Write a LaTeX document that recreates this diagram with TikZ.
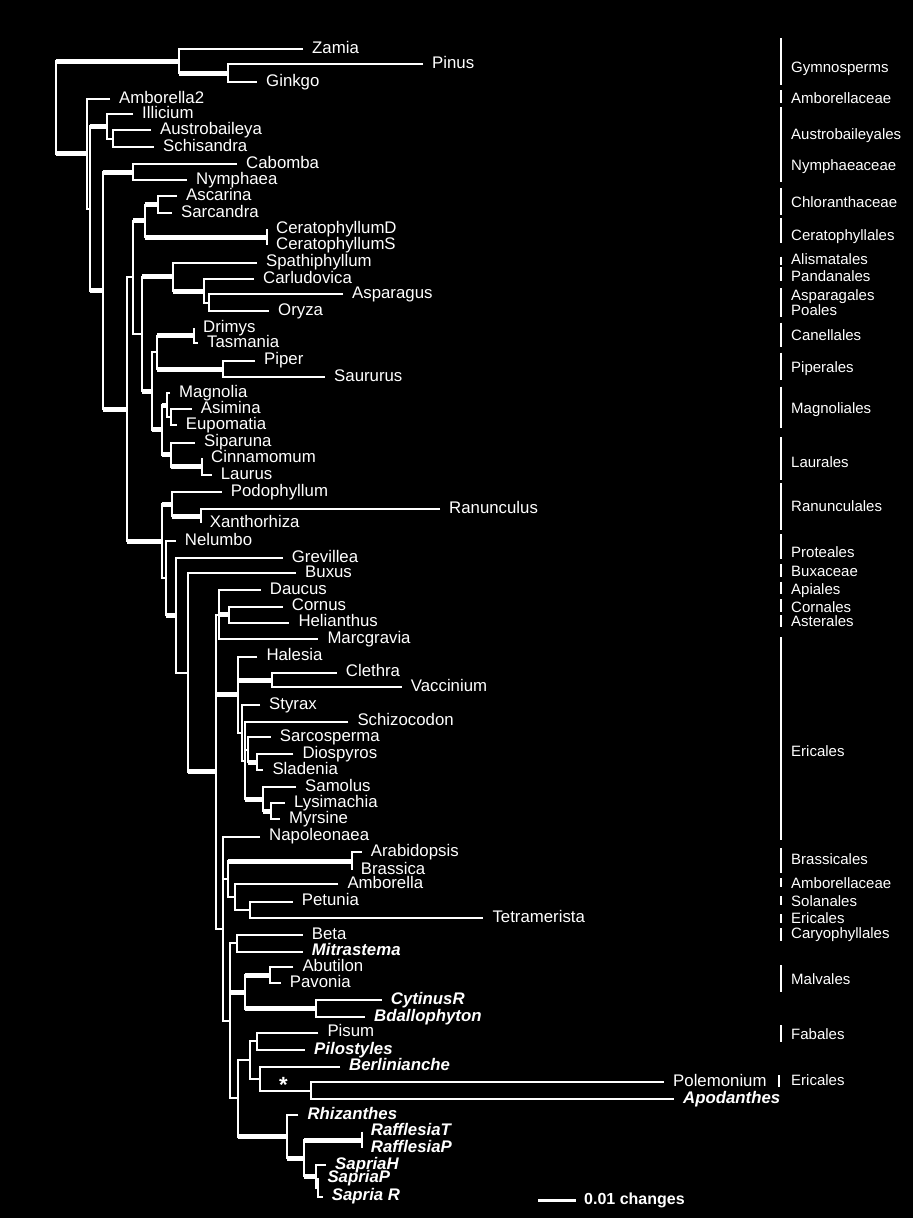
\documentclass[tikz,border=0pt]{standalone}
\usepackage{fontspec}
\setmainfont{Liberation Sans}

\begin{document}
\begin{tikzpicture}[
      x=1pt,y=-1pt,
      leaf/.style={
        anchor=west,inner xsep=9pt,inner ysep=0pt,
        text height=10.5pt,text depth=2pt,text=white,
        font=\fontsize{16.8}{18}\selectfont
      },
      para/.style={leaf,font=\fontsize{16.8}{18}\selectfont\bfseries\itshape},
      grp/.style={
        anchor=west,inner sep=0pt,text height=11pt,text depth=3pt,
        text=white,font=\fontsize{15}{16}\selectfont
      },
      scl/.style={
        anchor=west,inner xsep=8pt,inner ysep=0pt,text height=12pt,
        text depth=3.5pt,text=white,font=\fontsize{16}{18}\selectfont\bfseries
      },
      br/.style={draw=white,line width=2pt},
      heavy/.style={draw=white,line width=5pt},
      bar/.style={draw=white,line width=2pt},
    ]
    \path[use as bounding box,fill=black] (0,0) rectangle (913,1218);

    % taxa
    \node[leaf] (zamia) at (303,49.3) {Zamia};
    \node[leaf] (pinus) at (423,64.3) {Pinus};
    \node[leaf] (ginkgo) at (257,82) {Ginkgo};
    \node[leaf] (amborella2) at (110,99) {Amborella2};
    \node[leaf] (illicium) at (133,114) {Illicium};
    \node[leaf] (austrobaileya) at (151,130) {Austrobaileya};
    \node[leaf] (schisandra) at (154,147) {Schisandra};
    \node[leaf] (cabomba) at (237,164) {Cabomba};
    \node[leaf] (nymphaea) at (187,180) {Nymphaea};
    \node[leaf] (ascarina) at (177,196) {Ascarina};
    \node[leaf] (sarcandra) at (172,213) {Sarcandra};
    \node[leaf] (ceratod) at (267,229) {CeratophyllumD};
    \node[leaf] (ceratos) at (267,245) {CeratophyllumS};
    \node[leaf] (spathi) at (257,262.7) {Spathiphyllum};
    \node[leaf] (carludovica) at (254,279.3) {Carludovica};
    \node[leaf] (asparagus) at (343,294.3) {Asparagus};
    \node[leaf] (oryza) at (269,311) {Oryza};
    \node[leaf] (drimys) at (194,328.3) {Drimys};
    \node[leaf] (tasmania) at (198,343.3) {Tasmania};
    \node[leaf] (piper) at (255,360.7) {Piper};
    \node[leaf] (saururus) at (325,377.3) {Saururus};
    \node[leaf] (magnolia) at (170,393.3) {Magnolia};
    \node[leaf] (asimina) at (191.7,409.3) {Asimina};
    \node[leaf] (eupomatia) at (176.7,425) {Eupomatia};
    \node[leaf] (siparuna) at (195,442.7) {Siparuna};
    \node[leaf] (cinnamomum) at (202,458.3) {Cinnamomum};
    \node[leaf] (laurus) at (211.7,475) {Laurus};
    \node[leaf] (podophyllum) at (221.7,492.3) {Podophyllum};
    \node[leaf] (ranunculus) at (440,509.3) {Ranunculus};
    \node[leaf] (xanthorhiza) at (200.7,523.3) {Xanthorhiza};
    \node[leaf] (nelumbo) at (175.7,541) {Nelumbo};
    \node[leaf] (grevillea) at (282.7,558.3) {Grevillea};
    \node[leaf] (buxus) at (296,573.3) {Buxus};
    \node[leaf] (daucus) at (260.7,590) {Daucus};
    \node[leaf] (cornus) at (282.7,606.7) {Cornus};
    \node[leaf] (helianthus) at (289.3,622.7) {Helianthus};
    \node[leaf] (marcgravia) at (318.3,639.3) {Marcgravia};
    \node[leaf] (halesia) at (257.3,656.7) {Halesia};
    \node[leaf] (clethra) at (336.7,672.7) {Clethra};
    \node[leaf] (vaccinium) at (401.7,687.3) {Vaccinium};
    \node[leaf] (styrax) at (260,705) {Styrax};
    \node[leaf] (schizocodon) at (348.3,721.7) {Schizocodon};
    \node[leaf] (sarcosperma) at (270.7,737.3) {Sarcosperma};
    \node[leaf] (diospyros) at (293.3,754) {Diospyros};
    \node[leaf] (sladenia) at (263.3,770) {Sladenia};
    \node[leaf] (samolus) at (296,787.3) {Samolus};
    \node[leaf] (lysimachia) at (285,803.3) {Lysimachia};
    \node[leaf] (myrsine) at (280,819.3) {Myrsine};
    \node[leaf] (napoleonaea) at (260,836.7) {Napoleonaea};
    \node[leaf] (arabidopsis) at (361.7,852.3) {Arabidopsis};
    \node[leaf] (brassica) at (351.7,870) {Brassica};
    \node[leaf] (amborella) at (338.3,884) {Amborella};
    \node[leaf] (petunia) at (292.7,901.7) {Petunia};
    \node[leaf] (tetramerista) at (483.3,918.3) {Tetramerista};
    \node[leaf] (beta) at (302.7,935) {Beta};
    \node[para] (mitrastema) at (302.7,951.7) {Mitrastema};
    \node[leaf] (abutilon) at (293.3,967.3) {Abutilon};
    \node[leaf] (pavonia) at (280.7,983.3) {Pavonia};
    \node[para] (cytinus) at (381.7,1000) {CytinusR};
    \node[para] (bdallophyton) at (365,1017.3) {Bdallophyton};
    \node[leaf] (pisum) at (318.3,1032.7) {Pisum};
    \node[para] (pilostyles) at (305,1050) {Pilostyles};
    \node[para] (berlinianche) at (340,1066.7) {Berlinianche};
    \node[leaf] (polemonium) at (664,1082.3) {Polemonium};
    \node[para] (apodanthes) at (674,1099) {Apodanthes};
    \node[para] (rhizanthes) at (298.3,1115) {Rhizanthes};
    \node[para] (rafflesiat) at (361.7,1131.7) {RafflesiaT};
    \node[para] (rafflesiap) at (361.7,1148.3) {RafflesiaP};
    \node[para] (sapriah) at (326,1165) {SapriaH};
    \node[para] (sapriap) at (318.3,1178.3) {SapriaP};
    \node[para] (sapriar) at (322.7,1196.7) {Sapria R};

    % internal nodes
    \coordinate (root) at (56,107.5);
    \coordinate (gym) at (179,61.2);
    \coordinate (pigi) at (228,73.15);
    \coordinate (ang) at (87,153.75);
    \coordinate (ang1) at (90,208.5);
    \coordinate (aus) at (107,126.25);
    \coordinate (aus2) at (113,138.5);
    \coordinate (core) at (103,290.7);
    \coordinate (nym) at (133,172);
    \coordinate (meso) at (127,409.3);
    \coordinate (chlmon) at (133,277.4);
    \coordinate (chlcer) at (145,220.75);
    \coordinate (chl) at (158,204.5);
    \coordinate (cer) at (267,237);
    \coordinate (monmag) at (142,334);
    \coordinate (mono) at (173,276.8);
    \coordinate (mono2) at (204,291);
    \coordinate (mono3) at (209,302.65);
    \coordinate (magn) at (152,391.2);
    \coordinate (canpip) at (157,352.4);
    \coordinate (cane) at (194,335.8);
    \coordinate (pipe) at (223,369);
    \coordinate (magnlaur) at (162,429.95);
    \coordinate (magno) at (167,405.2);
    \coordinate (magno2) at (171,417.15);
    \coordinate (laur) at (171,454.7);
    \coordinate (laur2) at (202,466.65);
    \coordinate (eud) at (162,541.25);
    \coordinate (ranu) at (172,504.3);
    \coordinate (ranu2) at (200.7,516.3);
    \coordinate (eud2) at (165.7,578.2);
    \coordinate (eud3) at (175.7,615.4);
    \coordinate (eud4) at (187.5,672.5);
    \coordinate (coreeud) at (216,771.7);
    \coordinate (aste) at (219.3,614.65);
    \coordinate (corhel) at (229.3,614.7);
    \coordinate (eric) at (237.5,694.7);
    \coordinate (clevac) at (271.7,680);
    \coordinate (sty) at (241.7,732.75);
    \coordinate (eric2) at (245,760.5);
    \coordinate (sarc) at (248.3,749.65);
    \coordinate (diosla) at (256.7,762);
    \coordinate (prim) at (263.3,799.3);
    \coordinate (lysmyr) at (271,811.3);
    \coordinate (ros) at (223,928.75);
    \coordinate (brasamb) at (228.3,879.1);
    \coordinate (bras) at (351.7,861.15);
    \coordinate (amb) at (235,897);
    \coordinate (sol) at (250,910);
    \coordinate (ros2) at (230,1020.8);
    \coordinate (caryo) at (237.3,943.35);
    \coordinate (malv) at (245,992);
    \coordinate (abu) at (270,975.3);
    \coordinate (cyt) at (316,1008.65);
    \coordinate (lowr) at (238,1098.3);
    \coordinate (pisber) at (250,1060);
    \coordinate (pisn) at (256.7,1041.35);
    \coordinate (bern) at (260,1078.7);
    \coordinate (poln) at (310.7,1090.65);
    \coordinate (raf0) at (287.3,1136.55);
    \coordinate (raf1) at (304.3,1158.1);
    \coordinate (rafn) at (361.7,1140);
    \coordinate (sap) at (316,1176.25);
    \coordinate (sap2) at (318.3,1187.5);

    % branches
    \draw[br] (zamia.west) -| (gym) |- (pigi);
    \draw[br] (pinus.west) -| (pigi) |- (ginkgo.west);
    \draw[br] (gym) -| (root) |- (ang);
    \draw[br] (amborella2.west) -| (ang) |- (ang1);
    \draw[br] (aus) -| (ang1) |- (core);
    \draw[br] (illicium.west) -| (aus) |- (aus2);
    \draw[br] (austrobaileya.west) -| (aus2) |- (schisandra.west);
    \draw[br] (nym) -| (core) |- (meso);
    \draw[br] (cabomba.west) -| (nym) |- (nymphaea.west);
    \draw[br] (chlmon) -| (meso) |- (eud);
    \draw[br] (chlcer) -| (chlmon) |- (monmag);
    \draw[br] (chl) -| (chlcer) |- (cer);
    \draw[br] (ascarina.west) -| (chl) |- (sarcandra.west);
    \draw[br] (ceratod.west) -| (cer) |- (ceratos.west);
    \draw[br] (mono) -| (monmag) |- (magn);
    \draw[br] (spathi.west) -| (mono) |- (mono2);
    \draw[br] (carludovica.west) -| (mono2) |- (mono3);
    \draw[br] (asparagus.west) -| (mono3) |- (oryza.west);
    \draw[br] (canpip) -| (magn) |- (magnlaur);
    \draw[br] (cane) -| (canpip) |- (pipe);
    \draw[br] (drimys.west) -| (cane) |- (tasmania.west);
    \draw[br] (piper.west) -| (pipe) |- (saururus.west);
    \draw[br] (magno) -| (magnlaur) |- (laur);
    \draw[br] (magnolia.west) -| (magno) |- (magno2);
    \draw[br] (asimina.west) -| (magno2) |- (eupomatia.west);
    \draw[br] (siparuna.west) -| (laur) |- (laur2);
    \draw[br] (cinnamomum.west) -| (laur2) |- (laurus.west);
    \draw[br] (ranu) -| (eud) |- (eud2);
    \draw[br] (podophyllum.west) -| (ranu) |- (ranu2);
    \draw[br] (ranunculus.west) -| (ranu2) |- (xanthorhiza.west);
    \draw[br] (nelumbo.west) -| (eud2) |- (eud3);
    \draw[br] (grevillea.west) -| (eud3) |- (eud4);
    \draw[br] (buxus.west) -| (eud4) |- (coreeud);
    \draw[br] (aste) -| (coreeud) |- (ros);
    \draw[br] (coreeud |- eric) -- (eric);
    \draw[br] (daucus.west) -| (aste) |- (marcgravia.west);
    \draw[br] (aste |- corhel) -- (corhel);
    \draw[br] (cornus.west) -| (corhel) |- (helianthus.west);
    \draw[br] (halesia.west) -| (eric) |- (sty);
    \draw[br] (eric |- clevac) -- (clevac);
    \draw[br] (clethra.west) -| (clevac) |- (vaccinium.west);
    \draw[br] (styrax.west) -| (sty) |- (eric2);
    \draw[br] (schizocodon.west) -| (eric2) |- (prim);
    \draw[br] (eric2 |- sarc) -- (sarc);
    \draw[br] (sarcosperma.west) -| (sarc) |- (diosla);
    \draw[br] (diospyros.west) -| (diosla) |- (sladenia.west);
    \draw[br] (samolus.west) -| (prim) |- (lysmyr);
    \draw[br] (lysimachia.west) -| (lysmyr) |- (myrsine.west);
    \draw[br] (napoleonaea.west) -| (ros) |- (ros2);
    \draw[br] (ros |- brasamb) -- (brasamb);
    \draw[br] (bras) -| (brasamb) |- (amb);
    \draw[br] (arabidopsis.west) -| (bras) |- (brassica.west);
    \draw[br] (amborella.west) -| (amb) |- (sol);
    \draw[br] (petunia.west) -| (sol) |- (tetramerista.west);
    \draw[br] (caryo) -| (ros2) |- (lowr);
    \draw[br] (ros2 |- malv) -- (malv);
    \draw[br] (beta.west) -| (caryo) |- (mitrastema.west);
    \draw[br] (abu) -| (malv) |- (cyt);
    \draw[br] (abutilon.west) -| (abu) |- (pavonia.west);
    \draw[br] (cytinus.west) -| (cyt) |- (bdallophyton.west);
    \draw[br] (pisber) -| (lowr) |- (raf0);
    \draw[br] (pisn) -| (pisber) |- (bern);
    \draw[br] (pisum.west) -| (pisn) |- (pilostyles.west);
    \draw[br] (berlinianche.west) -| (bern) |- (poln);
    \draw[br] (polemonium.west) -| (poln) |- (apodanthes.west);
    \draw[br] (rhizanthes.west) -| (raf0) |- (raf1);
    \draw[br] (rafn) -| (raf1) |- (sap);
    \draw[br] (rafflesiat.west) -| (rafn) |- (rafflesiap.west);
    \draw[br] (sapriah.west) -| (sap) |- (sap2);
    \draw[br] (sapriap.west) -| (sap2) |- (sapriar.west);

    % well supported branches
    \draw[heavy] (root |- gym) -- (gym);
    \draw[heavy] (root |- ang) -- (ang);
    \draw[heavy] (gym |- pigi) -- (pigi);
    \draw[heavy] (ang1 |- aus) -- (aus);
    \draw[heavy] (ang1 |- core) -- (core);
    \draw[heavy] (core |- nym) -- (nym);
    \draw[heavy] (core |- meso) -- (meso);
    \draw[heavy] (meso |- eud) -- (eud);
    \draw[heavy] (chlmon |- chlcer) -- (chlcer);
    \draw[heavy] (chlcer |- chl) -- (chl);
    \draw[heavy] (chlcer |- cer) -- (cer);
    \draw[heavy] (monmag |- mono) -- (mono);
    \draw[heavy] (mono |- mono2) -- (mono2);
    \draw[heavy] (monmag |- magn) -- (magn);
    \draw[heavy] (canpip |- cane) -- (cane);
    \draw[heavy] (canpip |- pipe) -- (pipe);
    \draw[heavy] (magn |- magnlaur) -- (magnlaur);
    \draw[heavy] (magnlaur |- magno) -- (magno);
    \draw[heavy] (magnlaur |- laur) -- (laur);
    \draw[heavy] (laur |- laur2) -- (laur2);
    \draw[heavy] (eud |- ranu) -- (ranu);
    \draw[heavy] (ranu |- ranu2) -- (ranu2);
    \draw[heavy] (eud2 |- eud3) -- (eud3);
    \draw[heavy] (eud4 |- coreeud) -- (coreeud);
    \draw[heavy] (aste |- corhel) -- (corhel);
    \draw[heavy] (coreeud |- eric) -- (eric);
    \draw[heavy] (eric |- clevac) -- (clevac);
    \draw[heavy] (sarc |- diosla) -- (diosla);
    \draw[heavy] (eric2 |- prim) -- (prim);
    \draw[heavy] (prim |- lysmyr) -- (lysmyr);
    \draw[heavy] (brasamb |- bras) -- (bras);
    \draw[heavy] (ros2 |- malv) -- (malv);
    \draw[heavy] (malv |- abu) -- (abu);
    \draw[heavy] (malv |- cyt) -- (cyt);
    \draw[heavy] (lowr |- raf0) -- (raf0);
    \draw[heavy] (raf0 |- raf1) -- (raf1);
    \draw[heavy] (raf1 |- rafn) -- (rafn);
    \draw[heavy] (raf1 |- sap) -- (sap);

    \node[text=white,inner sep=0pt,font=\fontsize{22}{22}\selectfont\bfseries] (star) at (283.3,1085) {*};

    % groups
    \node[grp] (gymno) at (791,68.2) {Gymnosperms};
    \node[grp] (amborellaceae1) at (791,99.2) {Amborellaceae};
    \node[grp] (austrob) at (791,135.8) {Austrobaileyales};
    \node[grp] (nymph) at (791,166.5) {Nymphaeaceae};
    \node[grp] (chlor) at (791,203.8) {Chloranthaceae};
    \node[grp] (cerato) at (791,236.5) {Ceratophyllales};
    \node[grp] (alism) at (791,260.8) {Alismatales};
    \node[grp] (pandan) at (791,277.5) {Pandanales};
    \node[grp] (aspar) at (791,296.5) {Asparagales};
    \node[grp] (poales) at (791,311.5) {Poales};
    \node[grp] (canell) at (791,336.5) {Canellales};
    \node[grp] (piperal) at (791,368.8) {Piperales};
    \node[grp] (magnol) at (791,409.8) {Magnoliales};
    \node[grp] (laural) at (791,463.8) {Laurales};
    \node[grp] (ranunc) at (791,507.5) {Ranunculales};
    \node[grp] (proteal) at (791,553.2) {Proteales};
    \node[grp] (buxac) at (791,572.2) {Buxaceae};
    \node[grp] (apial) at (791,590.2) {Apiales};
    \node[grp] (cornal) at (791,608.8) {Cornales};
    \node[grp] (asteral) at (791,622.2) {Asterales};
    \node[grp] (erical1) at (791,752.2) {Ericales};
    \node[grp] (brassical) at (791,860.8) {Brassicales};
    \node[grp] (amborellaceae2) at (791,884.2) {Amborellaceae};
    \node[grp] (solanal) at (791,902.5) {Solanales};
    \node[grp] (erical2) at (791,919.2) {Ericales};
    \node[grp] (caryoph) at (791,934.8) {Caryophyllales};
    \node[grp] (malval) at (791,980.8) {Malvales};
    \node[grp] (fabal) at (791,1035.8) {Fabales};
    \node[grp] (erical3) at (791,1081.5) {Ericales};

    \draw[bar] (780.5,38.3) -- (780.5,85);
    \draw[bar] (780.5,90) -- (780.5,102.7);
    \draw[bar] (780.5,107.3) -- (780.5,181.7);
    \draw[bar] (780.5,188.3) -- (780.5,215);
    \draw[bar] (780.5,218.3) -- (780.5,243.3);
    \draw[bar] (780.5,256.7) -- (780.5,265);
    \draw[bar] (780.5,267.3) -- (780.5,280.7);
    \draw[bar] (780.5,288.3) -- (780.5,316.7);
    \draw[bar] (780.5,322.7) -- (780.5,346.7);
    \draw[bar] (780.5,352.7) -- (780.5,380);
    \draw[bar] (780.5,386.7) -- (780.5,428.3);
    \draw[bar] (780.5,437.3) -- (780.5,480);
    \draw[bar] (780.5,483.3) -- (780.5,530);
    \draw[bar] (780.5,534) -- (780.5,559.3);
    \draw[bar] (780.5,564) -- (780.5,576.7);
    \draw[bar] (780.5,581.7) -- (780.5,594);
    \draw[bar] (780.5,599) -- (780.5,611.7);
    \draw[bar] (780.5,615) -- (780.5,627.3);
    \draw[bar] (780.5,637.3) -- (780.5,840);
    \draw[bar] (780.5,848.3) -- (780.5,873.3);
    \draw[bar] (780.5,878.3) -- (780.5,886.7);
    \draw[bar] (780.5,896) -- (780.5,905);
    \draw[bar] (780.5,914) -- (780.5,922.7);
    \draw[bar] (780.5,928.3) -- (780.5,940.7);
    \draw[bar] (780.5,965) -- (780.5,991.7);
    \draw[bar] (780.5,1025) -- (780.5,1041.7);
    \draw[bar] (779.3,1075) -- (779.3,1086.7);

    % scale
    \coordinate (sbar) at (538,1200);
    \node[scl] (scale) at (576,1200) {0.01 changes};
    \draw[white,line width=3pt] (sbar) -- (scale.west);
  \end{tikzpicture}
\end{document}
